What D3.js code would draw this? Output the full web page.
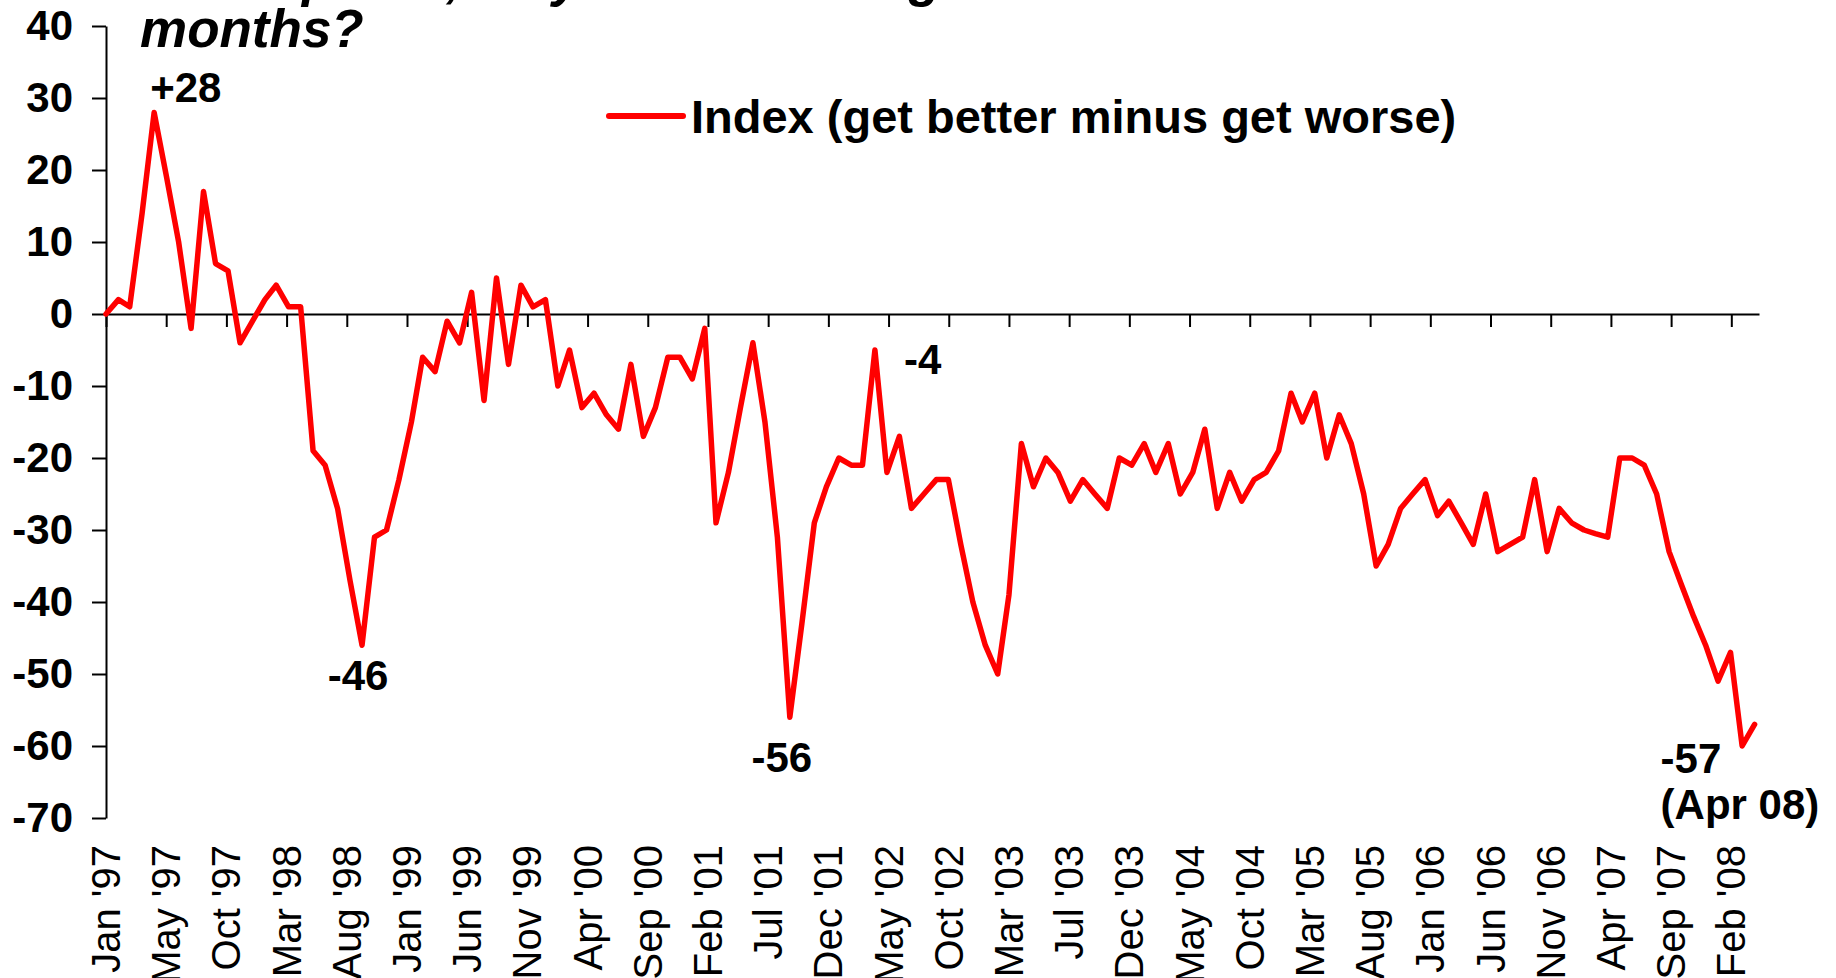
<!DOCTYPE html>
<html lang="en">
<head>
<meta charset="utf-8">
<title>Index (get better minus get worse)</title>
<script src="https://cdn.jsdelivr.net/npm/d3@7"></script>
<style>
  html, body { margin: 0; padding: 0; background: #fff; }
  svg { display: block; font-family: "Liberation Sans", Arial, Helvetica, sans-serif; }
</style>
</head>
<body>
<svg id="chart" width="1836" height="978"></svg>
<script>
// ---------------------------------------------------- data
// one value per month, Jan 97 .. Apr 08
var firstMonth = "1997-01-01";
var indexValues = [
   0,   2,   1,  14,  28,  19,  10,  -2,  17,   7,   6,  -4,
  -1,   2,   4,   1,   1, -19, -21, -27, -37, -46, -31, -30,
 -23, -15,  -6,  -8,  -1,  -4,   3, -12,   5,  -7,   4,   1,
   2, -10,  -5, -13, -11, -14, -16,  -7, -17, -13,  -6,  -6,
  -9,  -2, -29, -22, -13,  -4, -15, -31, -56, -43, -29, -24,
 -20, -21, -21,  -5, -22, -17, -27, -25, -23, -23, -32, -40,
 -46, -50, -39, -18, -24, -20, -22, -26, -23, -25, -27, -20,
 -21, -18, -22, -18, -25, -22, -16, -27, -22, -26, -23, -22,
 -19, -11, -15, -11, -20, -14, -18, -25, -35, -32, -27, -25,
 -23, -28, -26, -29, -32, -25, -33, -32, -31, -23, -33, -27,
 -29, -30, -30.5, -31, -20, -20, -21, -25, -33, -37.5, -42, -46,
 -51, -47, -60, -57
];

var yTicks = [40, 30, 20, 10, 0, -10, -20, -30, -40, -50, -60, -70];

// date axis: a label every 150 days from 1 Jan 97
var xTickLabels = ["Jan '97", "May '97", "Oct '97", "Mar '98", "Aug '98", "Jan '99", "Jun '99",
  "Nov '99", "Apr '00", "Sep '00", "Feb '01", "Jul '01", "Dec '01", "May '02", "Oct '02",
  "Mar '03", "Jul '03", "Dec '03", "May '04", "Oct '04", "Mar '05", "Aug '05", "Jan '06",
  "Jun '06", "Nov '06", "Apr '07", "Sep '07", "Feb '08"];
var xTickStepDays = 150;

var seriesName = "Index (get better minus get worse)";
// the question runs off the top of the picture
var titleLines = ["will improve, stay the same or get worse over the next 12", "months?"];

var annotations = [
  { text: "+28",      month: "1997-05-01" },
  { text: "-46",      month: "1998-10-01" },
  { text: "-56",      month: "2001-09-01" },
  { text: "-4",       month: "2002-04-01" },
  { text: "-57",      month: "2008-04-01" },
  { text: "(Apr 08)", month: "2008-04-01" }
];

// ---------------------------------------------------- layout
var annotationOffsets = [
  { dx: -4,  dy: -10, anchor: "start"  },
  { dx: -4,  dy: 45,  anchor: "middle" },
  { dx: -8,  dy: 55,  anchor: "middle" },
  { dx: 29,  dy: 24,  anchor: "start"  },
  { dx: -94, dy: 49,  anchor: "start"  },
  { dx: -94, dy: 95,  anchor: "start"  }
];

var svg = d3.select("svg#chart");
var parse = d3.utcParse("%Y-%m-%d");

var t0 = parse(firstMonth);
var months = d3.utcMonth.range(t0, d3.utcMonth.offset(t0, indexValues.length));
var points = months.map(function (d, i) { return { date: d, value: indexValues[i] }; });

var x = d3.scaleUtc()
    .domain([t0, parse("2008-04-12")])
    .range([106, 1759]);

var y = d3.scaleLinear()
    .domain([-70, 40])
    .range([818, 26]);

var tickDates = xTickLabels.map(function (l, i) { return d3.utcDay.offset(t0, i * xTickStepDays); });

// -- y axis
var yAxis = svg.append("g")
    .attr("transform", "translate(" + x.range()[0] + ",0)")
    .call(d3.axisLeft(y)
        .tickValues(yTicks)
        .tickSize(14)
        .tickSizeOuter(0)
        .tickPadding(19)
        .tickFormat(function (d) { return String(d); }));
yAxis.selectAll("path, line").attr("stroke", "#000").attr("stroke-width", 2);
yAxis.selectAll("text")
    .attr("fill", "#000")
    .style("font-size", "42px")
    .style("font-weight", "bold")
    .style("font-family", "'Liberation Sans', Arial, sans-serif");

// -- x axis line on zero, ticks hanging down
var xAxis = svg.append("g")
    .attr("transform", "translate(0," + y(0) + ")")
    .call(d3.axisBottom(x)
        .tickValues(tickDates)
        .tickSize(13)
        .tickSizeOuter(0)
        .tickFormat(""));
xAxis.selectAll("path, line").attr("stroke", "#000").attr("stroke-width", 2);

// -- x labels at the bottom, rotated (the long ones run off the bottom, as in the original)
svg.append("g")
    .selectAll("text")
    .data(tickDates)
    .join("text")
    .attr("transform", function (d) { return "translate(" + x(d) + ",845) rotate(-90)"; })
    .attr("dy", "0.35em")
    .attr("text-anchor", "end")
    .style("font-size", "40px")
    .attr("fill", "#000")
    .text(function (d, i) { return xTickLabels[i]; });

// -- the series
var line = d3.line()
    .x(function (d) { return x(d.date); })
    .y(function (d) { return y(d.value); });

svg.append("path")
    .datum(points)
    .attr("d", line)
    .attr("fill", "none")
    .attr("stroke", "#ff0000")
    .attr("stroke-width", 5.5)
    .attr("stroke-linejoin", "round")
    .attr("stroke-linecap", "round");

// -- annotations
svg.append("g")
    .selectAll("text")
    .data(annotations)
    .join("text")
    .attr("x", function (d, i) { return x(parse(d.month)) + annotationOffsets[i].dx; })
    .attr("y", function (d, i) {
        var p = points.find(function (q) { return +q.date === +parse(d.month); });
        return y(p.value) + annotationOffsets[i].dy;
    })
    .attr("text-anchor", function (d, i) { return annotationOffsets[i].anchor; })
    .style("font-size", "42px")
    .style("font-weight", "bold")
    .attr("fill", "#000")
    .text(function (d) { return d.text; });

// -- legend
var legend = svg.append("g");
legend.append("line")
    .attr("x1", 609).attr("x2", 683)
    .attr("y1", 116).attr("y2", 116)
    .attr("stroke", "#ff0000")
    .attr("stroke-width", 6)
    .attr("stroke-linecap", "round");
legend.append("text")
    .attr("x", 691).attr("y", 133)
    .style("font-size", "47px")
    .style("font-weight", "bold")
    .attr("fill", "#000")
    .text(seriesName);

// -- title, last line sits at the top left of the plot
svg.append("g")
    .selectAll("text")
    .data(titleLines)
    .join("text")
    .attr("x", 140)
    .attr("y", function (d, i) { return 47 - (titleLines.length - 1 - i) * 51; })
    .style("font-size", "53px")
    .style("font-weight", "bold")
    .style("font-style", "italic")
    .attr("fill", "#000")
    .text(function (d) { return d; });
</script>
</body>
</html>
